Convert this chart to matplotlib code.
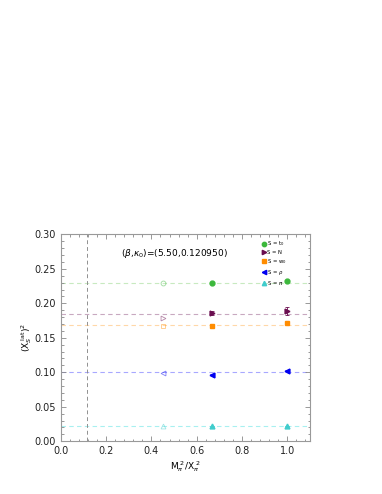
import matplotlib.pyplot as plt
import numpy as np

# x positions (M_pi^2 / X_pi^2)
x_open = 0.45
x_filled = [0.667, 1.0]

labels = [r'S = t$_0$', 'S = N', r'S = w$_0$', r'S = $\rho$', r'S = $\pi$']
colors = ['#3cb83c', '#6a0d4f', '#ff8c00', '#0000f0', '#40cccc']
line_colors = ['#c8eac0', '#c8a8c0', '#ffd8a8', '#a8a8ff', '#a8f0f0']
markers = ['o', '>', 's', '<', '^']

# physical-point lines
y_line = [0.230, 0.1845, 0.169, 0.100, 0.0222]
# open (extrapolated) points
y_open = [0.229, 0.178, 0.1665, 0.099, 0.022]
# filled points
y_filled = [[0.2295, 0.232],
            [0.1865, 0.189],
            [0.1675, 0.1712],
            [0.0965, 0.1023],
            [0.0222, 0.0222]]
y_err = [[0.0008, 0.0010],
         [0.0030, 0.0055],
         [0.0008, 0.0010],
         [0.0008, 0.0008],
         [0.0005, 0.0005]]

fig = plt.figure(figsize=(3.82, 4.94), dpi=100)
ax = fig.add_axes([0.159, 0.1067, 0.6525, 0.419])

handles = []
for i in range(len(labels)):
    ax.axhline(y_line[i], color=line_colors[i], ls='--', lw=0.8, dashes=(4, 3), zorder=1)
    ax.plot([x_open], [y_open[i]], marker=markers[i], ms=3.5, mfc='none',
            mec=colors[i], mew=0.6, alpha=0.5, ls='none', zorder=2)
    ax.errorbar(x_filled, y_filled[i], yerr=y_err[i], fmt='none',
                ecolor=colors[i], elinewidth=0.6, capsize=1.5, capthick=0.6, zorder=3)
    h, = ax.plot(x_filled, y_filled[i], marker=markers[i], ms=3.5, ls='none',
                 color=colors[i], label=labels[i], zorder=4)
    handles.append(h)

ax.axvline(0.115, color='#909090', ls='--', lw=0.7, dashes=(4, 3), zorder=1)

ax.set_xlim(0.0, 1.1)
ax.set_ylim(0.0, 0.30)
ax.set_xticks(np.arange(0.0, 1.01, 0.2))
ax.set_yticks(np.arange(0.0, 0.301, 0.05))
ax.set_xticks(np.arange(0.0, 1.1, 0.04), minor=True)
ax.set_yticks(np.arange(0.0, 0.30, 0.01), minor=True)
ax.tick_params(which='both', direction='in', top=True, right=True, labelsize=7,
               color='#888888', width=0.6, labelcolor='#222222')
ax.tick_params(which='major', length=3.5)
ax.tick_params(which='minor', length=1.8)
for s in ax.spines.values():
    s.set_color('#999999')
    s.set_linewidth(0.8)

ax.set_xlabel(r'M$_\pi^{\ 2}$/X$_\pi^{\ 2}$', fontsize=6.5, labelpad=2)
ax.set_ylabel(r'(X$_S^{\ \mathrm{lat}}$)$^2$', fontsize=6.5, labelpad=0)

ax.text(0.265, 0.268, r'($\beta$,$\kappa_0$)=(5.50,0.120950)', fontsize=6.5)

leg = ax.legend(handles=handles, loc='upper left', bbox_to_anchor=(0.805, 0.975),
                fontsize=3.8, frameon=False, handletextpad=0.1, handlelength=0.9,
                labelspacing=0.35, markerscale=0.9, borderaxespad=0.0,
                borderpad=0.0)

fig.savefig('out.png', dpi=100)
